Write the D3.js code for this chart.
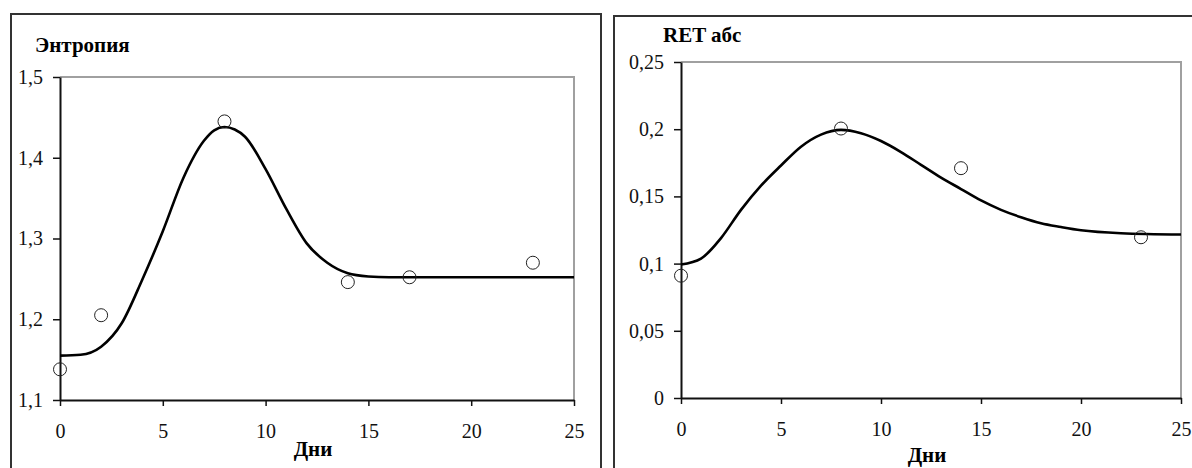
<!DOCTYPE html>
<html>
<head>
<meta charset="utf-8">
<script src="https://cdn.jsdelivr.net/npm/d3@7/dist/d3.min.js"></script>
<style>
  body { margin: 0; background: #fff; }
  svg { display: block; }
</style>
</head>
<body>
<script>
// left chart: entropy
const entropy_days = [0, 2, 8, 14, 17, 23]
const entropy_values = [1.138, 1.205, 1.445, 1.246, 1.252, 1.270]
const entropy_fit_days = [0, 1, 2, 3, 4, 5, 6, 7, 7.5, 8, 8.5, 9, 10, 11, 12, 13, 14, 15, 16, 20, 25]
const entropy_fit_values = [1.155, 1.156, 1.166, 1.195, 1.249, 1.309, 1.375, 1.421, 1.434, 1.438, 1.435, 1.426, 1.386, 1.337, 1.294, 1.270, 1.257, 1.253, 1.252, 1.252, 1.252]
const entropy_ticks = [1.1, 1.2, 1.3, 1.4, 1.5]

// right chart: RET abs
const ret_days = [0, 8, 14, 23]
const ret_values = [0.091, 0.2005, 0.171, 0.1196]
const ret_fit_days = [0, 1, 2, 3, 4, 5, 6, 7, 8, 9, 10, 11, 12, 13, 14, 15, 16, 17, 18, 19, 20, 22, 25]
const ret_fit_values = [0.0993, 0.1037, 0.119, 0.140, 0.158, 0.173, 0.187, 0.196, 0.1995, 0.197, 0.1912, 0.183, 0.1735, 0.164, 0.1555, 0.147, 0.140, 0.1345, 0.130, 0.1272, 0.1248, 0.1226, 0.1216]
const ret_ticks = [0, 0.05, 0.1, 0.15, 0.2, 0.25]

const day_ticks = [0, 5, 10, 15, 20, 25]
const font = "'Liberation Serif', 'Times New Roman', serif"

var svg = d3.select("body").append("svg").attr("width", 1192).attr("height", 468)
svg.append("rect").attr("width", 1192).attr("height", 468).attr("fill", "#fff")

// panel frames
svg.append("rect").attr("x", 11).attr("y", 14).attr("width", 590).attr("height", 480)
    .attr("fill", "none").attr("stroke", "#333").attr("stroke-width", 2)
svg.append("rect").attr("x", 614).attr("y", 16).attr("width", 600).attr("height", 480)
    .attr("fill", "none").attr("stroke", "#333").attr("stroke-width", 2)

comma = d => String(d).replace(".", ",")

function draw_chart(cfg) {
    let x = d3.scaleLinear().domain([0, 25]).range(cfg.xr)
    let y = d3.scaleLinear().domain(cfg.yd).range(cfg.yr)
    let g = svg.append("g")

    // top and right border of the plot area
    g.append("path")
        .attr("d", `M${x(0)},${y(cfg.yd[1])}H${x(25)}V${y(cfg.yd[0])}`)
        .attr("fill", "none").attr("stroke", "#a0a0a0").attr("stroke-width", 2)

    let xa = g.append("g").attr("transform", `translate(0,${y(cfg.yd[0])})`)
        .call(d3.axisBottom(x).tickValues(day_ticks).tickSize(6).tickPadding(18).tickSizeOuter(0))
    let ya = g.append("g").attr("transform", `translate(${x(0)},0)`)
        .call(d3.axisLeft(y).tickValues(cfg.ticks).tickSize(7).tickPadding(10).tickFormat(comma).tickSizeOuter(0))

    ;[xa, ya].forEach(a => {
        a.select(".domain").attr("stroke", "#111").attr("stroke-width", 2)
        a.selectAll(".tick line").attr("stroke", "#111").attr("stroke-width", 1.5)
        a.selectAll("text").attr("font-family", font).attr("font-size", 20).attr("fill", "#111")
    })

    let line = d3.line()
        .x(d => x(d[0]))
        .y(d => y(d[1]))
        .curve(d3.curveMonotoneX)
    g.append("path")
        .datum(d3.zip(cfg.fit_x, cfg.fit_y))
        .attr("d", line)
        .attr("fill", "none").attr("stroke", "#000").attr("stroke-width", 2.6)

    g.selectAll("circle")
        .data(d3.zip(cfg.px, cfg.py))
        .enter()
        .append("circle")
        .attr("cx", d => x(d[0]))
        .attr("cy", d => y(d[1]))
        .attr("r", 6.5)
        .attr("fill", "none").attr("stroke", "#222").attr("stroke-width", 1)

    g.append("text").attr("x", cfg.title_x).attr("y", cfg.title_y)
        .attr("font-family", font).attr("font-weight", "bold").attr("font-size", 21)
        .text(cfg.title)
    g.append("text").attr("x", (cfg.xr[0] + cfg.xr[1]) / 2 - 4).attr("y", cfg.xlabel_y)
        .attr("text-anchor", "middle")
        .attr("font-family", font).attr("font-weight", "bold").attr("font-size", 21)
        .text("Дни")
}

draw_chart({
    xr: [60, 574], yd: [1.1, 1.5], yr: [400, 77], ticks: entropy_ticks,
    fit_x: entropy_fit_days, fit_y: entropy_fit_values,
    px: entropy_days, py: entropy_values,
    title: "Энтропия", title_x: 35, title_y: 52, xlabel_y: 456
})

draw_chart({
    xr: [681, 1181], yd: [0, 0.25], yr: [398, 62], ticks: ret_ticks,
    fit_x: ret_fit_days, fit_y: ret_fit_values,
    px: ret_days, py: ret_values,
    title: "RET абс", title_x: 663, title_y: 42, xlabel_y: 462
})
</script>
</body>
</html>
